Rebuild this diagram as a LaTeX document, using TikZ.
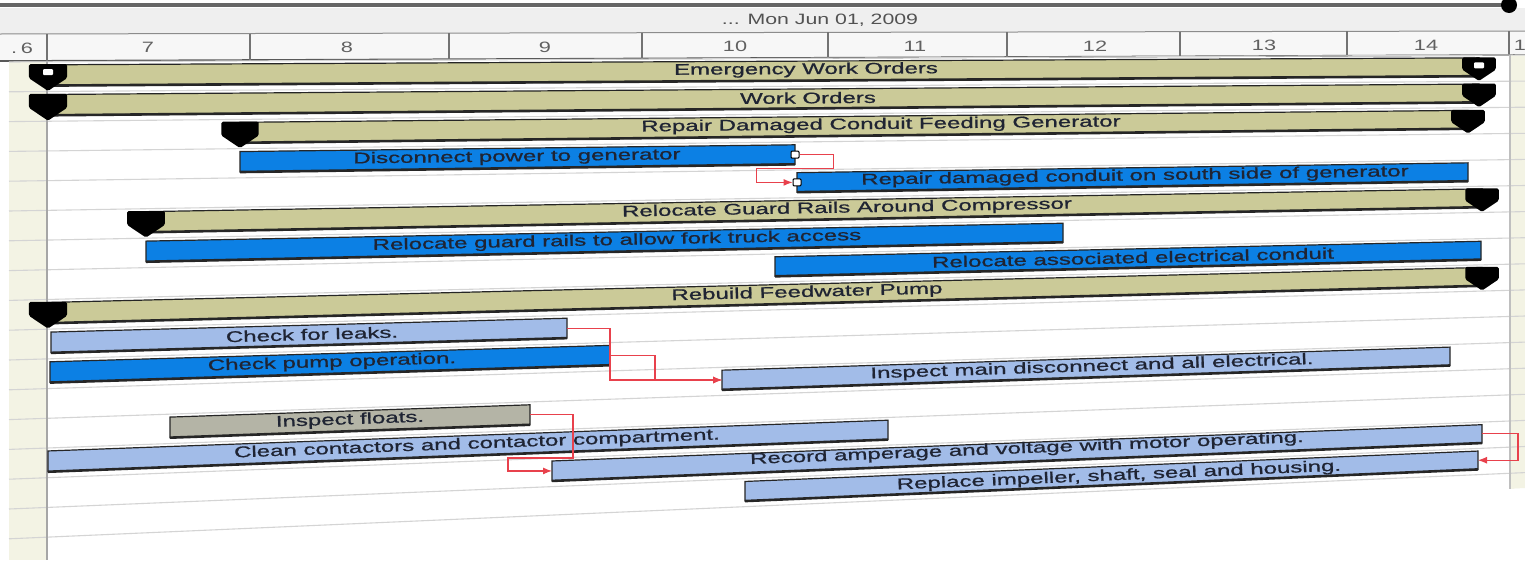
\documentclass[tikz,border=0pt]{standalone}
\usepackage{fontspec}
\setmainfont{Liberation Sans}
\newfontfamily\barfont[FakeBold=0.7]{Liberation Sans}
\usetikzlibrary{arrows.meta,calc}

\definecolor{khaki}{HTML}{CBCA98}
\definecolor{taskblue}{HTML}{0C80E4}
\definecolor{tasklight}{HTML}{A2BCE8}
\definecolor{taskgray}{HTML}{B4B4A6}
\definecolor{stripbg}{HTML}{F3F3E4}
\definecolor{gridc}{HTML}{D4D4D4}
\definecolor{depred}{HTML}{E8414C}
\definecolor{labelc}{HTML}{1F2433}
\definecolor{headbg}{HTML}{EFEFEF}
\definecolor{scalebg}{HTML}{F7F7F7}

% one task bar: name, row, start x, end x, style
\newcommand\taskbar[5]{%
  \coordinate (#1-tl) at (#3,{gy(#2+0.1,#3)});
  \coordinate (#1-tr) at (#4,{gy(#2+0.1,#4)});
  \coordinate (#1-br) at (#4,{gy(#2+0.8,#4)});
  \coordinate (#1-bl) at (#3,{gy(#2+0.8,#3)});
  \coordinate (#1-w) at (#3,{gy(#2+0.45,#3)});
  \coordinate (#1-e) at (#4,{gy(#2+0.45,#4)});
  \draw[#5] (#1-tl) -- (#1-tr) -- (#1-br) -- (#1-bl) -- cycle;
  \draw[baredge] (#1-bl) -- (#1-br);
}
% caption of a bar: [row offset], name, row, centre x, text
\newcommand\tasklabel[5][0.42]{%
  \node[rotate={gang(#3+0.45)}, barlabel] (#2) at (#4,{gy(#3+#1,#4)}) {#5};
}
% black summary end marker: name, row, centre x
\newcommand\summark[3]{%
  \pgfmathsetmacro\mkT{gy(#2+0.08,#3)}%
  \pgfmathsetmacro\mkS{gsp(#3)}%
  \coordinate (#1) at (#3,\mkT);
  \fill[black, rounded corners=1.5pt]
    ({#3-0.64*\mkS},\mkT) -- ({#3+0.64*\mkS},\mkT) -- ({#3+0.64*\mkS},{\mkT+0.47*\mkS})
    -- (#3,{\mkT+0.9*\mkS}) -- ({#3-0.64*\mkS},{\mkT+0.47*\mkS}) -- cycle;
}

\begin{document}
\begin{tikzpicture}[x=1pt,y=-1pt,
  declare function={gt(\x)=(\x-9)/1516;
    gy(\k,\x)=(1-gt(\x))*(62+29.8*\k)+gt(\x)*(55+26.1*\k);
    gang(\k)=atan((7+3.7*\k)/1516);
    gsp(\x)=(1-gt(\x))*29.8+gt(\x)*26.1;},
  sumbar/.style={fill=khaki, draw=black!85, line width=1.2pt},
  bluebar/.style={fill=taskblue, draw=black!85, line width=1.2pt},
  lightbar/.style={fill=tasklight, draw=black!85, line width=1.2pt},
  graybar/.style={fill=taskgray, draw=black!85, line width=1.2pt},
  baredge/.style={draw=black!85, line width=2.6pt},
  barlabel/.style={font=\barfont\fontsize{15.5}{16}\selectfont, text=labelc, inner sep=0pt, xscale=1.55},
  scalelabel/.style={font=\fontsize{15}{15}\selectfont, text=black!62, inner sep=0pt, xscale=1.45},
  headlabel/.style={font=\fontsize{15}{15}\selectfont, text=black!68, inner sep=0pt, xscale=1.42},
  pinsq/.style={draw=black, fill=white, line width=1pt, minimum width=8pt, minimum height=7pt, inner sep=0pt, rounded corners=1pt},
  dep/.style={draw=depred, line width=1.1pt},
  deparrow/.style={dep, -{Latex[length=9pt,width=7pt]}},
  gridline/.style={draw=gridc, line width=1.1pt},
  divider/.style={draw=black!55, line width=1.4pt}]

\useasboundingbox (0,0) rectangle (1525,560);
\fill[white] (0,0) rectangle (1525,560);

% ---- header ----
\fill[headbg] (0,8) -- (1525,8) -- (1525,31) -- (0,34) -- cycle;
\draw[black!60, line width=4.5pt] (0,5) -- (1502,5);
\fill[black] (1509,5) circle (8);
\fill[scalebg] (0,34) -- (1525,31) -- (1525,55) -- (0,61) -- cycle;
\draw[black!45, line width=1pt] (0,34) -- (1525,31);
\draw[black!65, line width=1.6pt] (0,61) -- (1525,55);
\node[headlabel] (hdr) at (820,20) {... Mon Jun 01, 2009};

\foreach \tx in {47,250,449,642,828,1007,1180,1347,1509}
  \draw[divider] (\tx,{34-3*\tx/1525}) -- (\tx,{gy(0,\tx)});
\foreach \tx/\tl/\tn in {22/{.\,6}/t6,148/7/t7,347/8/t8,545/9/t9,735/10/t10,915/11/t11,1095/12/t12,1264/13/t13,1426/14/t14,1520/1/t15}
  \node[scalelabel] (\tn) at (\tx,{48-3*\tx/1525}) {\tl};

% ---- side strips and row grid ----
\fill[stripbg] (9,{gy(0,9)}) rectangle (47,560);
\fill[stripbg] (1510,{gy(0,1510)}) -- (1525,{gy(0,1525)}) -- (1525,{gy(16.6,1525)}) -- (1510,{gy(16.6,1510)}) -- cycle;
\foreach \k in {0,...,16}
  \draw[gridline] (9,{gy(\k,9)}) -- (1525,{gy(\k,1525)});
\fill[white] (48,{gy(16.6,48)}) -- (1525,{gy(16.6,1525)}) -- (1525,560) -- (48,560) -- cycle;
\draw[black!35, line width=1.1pt] (47,{gy(0,47)}) -- (47,560);
\draw[black!25, line width=1.1pt] (1510,{gy(0,1510)}) -- (1510,{gy(16.6,1510)});

% ---- bars ----
\taskbar{emerg}{0}{48}{1479}{sumbar}
\taskbar{work}{1}{48}{1479}{sumbar}
\taskbar{repsum}{2}{240}{1468}{sumbar}
\taskbar{disc}{3}{240}{795}{bluebar}
\taskbar{rep}{4}{797}{1468}{bluebar}
\taskbar{guard}{5}{146}{1482}{sumbar}
\taskbar{rails}{6}{146}{1063}{bluebar}
\taskbar{assoc}{7}{775}{1481}{bluebar}
\taskbar{rebuild}{8}{48}{1482}{sumbar}
\taskbar{leaks}{9}{51}{567}{lightbar}
\taskbar{pump}{10}{50}{610}{bluebar}
\taskbar{insp}{11}{722}{1450}{lightbar}
\taskbar{floats}{12}{170}{530}{graybar}
\taskbar{clean}{13}{48}{888}{lightbar}
\taskbar{record}{14}{552}{1482}{lightbar}
\taskbar{replace}{15}{745}{1478}{lightbar}

% ---- summary end markers ----
\summark{emerg-s}{0}{48}
\summark{emerg-f}{0}{1479}
\summark{work-s}{1}{48}
\summark{work-f}{1}{1479}
\summark{repsum-s}{2}{240}
\summark{repsum-f}{2}{1468}
\summark{guard-s}{5}{146}
\summark{guard-f}{5}{1482}
\summark{rebuild-s}{8}{48}
\summark{rebuild-f}{8}{1482}
\fill[white, rounded corners=1pt] ($(emerg-s)+(-5,5)$) rectangle ($(emerg-s)+(5,11)$);
\fill[white, rounded corners=1pt] ($(emerg-f)+(-5,5)$) rectangle ($(emerg-f)+(5,11)$);

% ---- captions ----
\tasklabel{emerg-l}{0}{806}{Emergency Work Orders}
\tasklabel{work-l}{1}{808}{Work Orders}
\tasklabel{repsum-l}{2}{881}{Repair Damaged Conduit Feeding Generator}
\tasklabel{disc-l}{3}{517}{Disconnect power to generator}
\tasklabel{rep-l}{4}{1135}{Repair damaged conduit on south side of generator}
\tasklabel{guard-l}{5}{847}{Relocate Guard Rails Around Compressor}
\tasklabel{rails-l}{6}{617}{Relocate guard rails to allow fork truck access}
\tasklabel{assoc-l}{7}{1133}{Relocate associated electrical conduit}
\tasklabel{rebuild-l}{8}{807}{Rebuild Feedwater Pump}
\tasklabel{leaks-l}{9}{312}{Check for leaks.}
\tasklabel{pump-l}{10}{332}{Check pump operation.}
\tasklabel{insp-l}{11}{1092}{Inspect main disconnect and all electrical.}
\tasklabel{floats-l}{12}{350}{Inspect floats.}
\tasklabel{clean-l}{13}{477}{Clean contactors and contactor compartment.}
\tasklabel[0.34]{record-l}{14}{1027}{Record amperage and voltage with motor operating.}
\tasklabel[0.47]{replace-l}{15}{1119}{Replace impeller, shaft, seal and housing.}

% ---- dependencies ----
\node[pinsq] (disc-pin) at (disc-e) {};
\node[pinsq] (rep-pin) at (rep-w) {};
\draw[deparrow] (disc-pin.east) -- ++(34,0) |- ($(rep-pin.west)+(-36,-14)$) |- (rep-pin.west);
\draw[deparrow] (leaks-e) -- ++(43,0) |- (insp-w);
\draw[deparrow] (pump-e) -- ++(45,0) |- (insp-w);
\draw[deparrow] (floats-e) -- ++(43,0) |- ($(record-w)+(-44,-13)$) |- (record-w);
\draw[deparrow] (record-e) -- ++(36,0) |- (replace-e);

\end{tikzpicture}
\end{document}
